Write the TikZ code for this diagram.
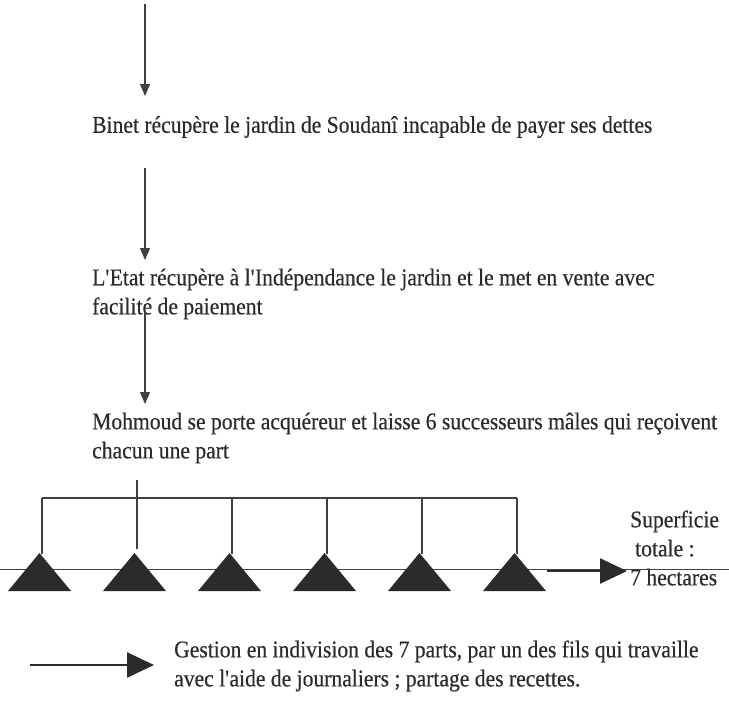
\documentclass[tikz,border=0pt]{standalone}
\usepackage{fontspec}
\setmainfont{Liberation Serif}[FakeStretch=0.9,FakeBold=0.4]
\usetikzlibrary{arrows.meta}
\definecolor{ink}{HTML}{2B2B2B}
\definecolor{lin}{HTML}{404040}
\newcommand{\ap}{\textquotesingle}
\begin{document}
\begin{tikzpicture}[x=1pt,y=-1pt,
  txt/.style={anchor=west,inner sep=0pt,font=\fontsize{24}{29}\selectfont,text=ink,align=left},
  down/.style={draw=lin,line width=1.3pt,-{Triangle[length=12pt,width=10pt]}},
  fat/.style={draw=ink,line width=2.6pt,-{Triangle[length=27pt,width=25pt]}},
  bar/.style={draw=lin,line width=1.6pt},
  thin/.style={draw=lin,line width=0.9pt},
  tri/.style={fill=ink}]
\useasboundingbox (0,0) rectangle (729,723);
% texts
\node[txt] (binet) at (92,127) {Binet récupère le jardin de Soudanî incapable de payer ses dettes};
\node[txt] (etat) at (92,294) {L\ap Etat récupère à l\ap Indépendance le jardin et le met en vente avec\\facilité de paiement};
\node[txt] (moh) at (92,438) {Mohmoud se porte acquéreur et laisse 6 successeurs mâles qui reçoivent\\chacun une part};
\node[txt] (sup) at (630,548) {Superficie\\\hspace*{5pt}totale :\\7 hectares};
\node[txt] (gest) at (174,666) {Gestion en indivision des 7 parts, par un des fils qui travaille\\avec l\ap aide de journaliers ; partage des recettes.};
% down arrows
\coordinate (a1s) at (145,4);   \coordinate (a1e) at (145,96);
\coordinate (a2s) at (145,168); \coordinate (a2e) at (145,260);
\coordinate (a3s) at (145,312); \coordinate (a3e) at (145,404);
\draw[down] (a1s) -- (a1e);
\draw[down] (a2s) -- (a2e);
\draw[down] (a3s) -- (a3e);
% horizontal ground line
\coordinate (gl) at (0,569); \coordinate (gr) at (729,569);
\draw[thin] (gl) -- (gr);
% bracket
\coordinate (bl) at (42,498); \coordinate (br) at (517,498);
\coordinate (stemtop) at (137,480); \coordinate (stembot) at (137,549);
\draw[bar] (bl) -- (br);
\draw[bar] (stemtop) -- (stembot);
\foreach \i/\x in {1/42,3/232,4/327,5/422,6/517}{
  \coordinate (v\i) at (\x,498);
  \coordinate (w\i) at (\x,554);
  \draw[bar] (v\i) -- (w\i);
}
% triangles
\foreach \i/\x in {1/39.5,2/134.5,3/229.5,4/324.5,5/419.5,6/514.5}{
  \coordinate (t\i) at (\x,553);
  \fill[tri] (t\i) -- ++(31.5,38) -- ++(-63,0) -- cycle;
}
% right arrows
\coordinate (r1s) at (547,571); \coordinate (r1e) at (627,571);
\draw[fat] (r1s) -- (r1e);
\coordinate (r2s) at (30,665); \coordinate (r2e) at (154,665);
\draw[fat] (r2s) -- (r2e);
\end{tikzpicture}
\end{document}
